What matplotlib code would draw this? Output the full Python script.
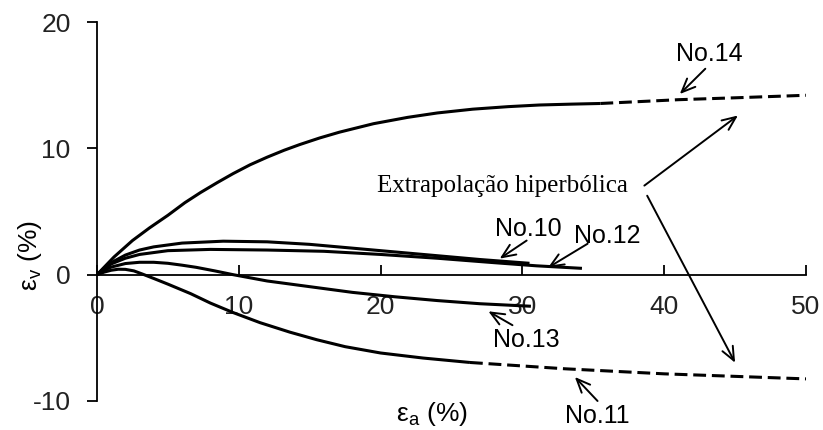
import matplotlib
matplotlib.use("Agg")
from matplotlib import pyplot as plt

plt.rcParams['font.family'] = ['Liberation Sans', 'DejaVu Sans']
plt.rcParams['mathtext.fontset'] = 'custom'
plt.rcParams['mathtext.rm'] = 'Liberation Sans'
plt.rcParams['mathtext.it'] = 'Liberation Sans'
plt.rcParams['axes.unicode_minus'] = False

# curves (eps_a %, eps_v %)
x14 = [0, 0.6, 1.2, 2.5, 3.7, 5.0, 6.2, 7.3, 8.5, 9.6, 10.8, 12.0, 13.2, 14.3, 15.7, 17.1, 19.5, 21.9, 24.0, 26.5, 29.0, 31.2, 33.5, 35.5]
y14 = [0, 0.7, 1.4, 2.7, 3.7, 4.7, 5.7, 6.5, 7.3, 8.0, 8.7, 9.3, 9.85, 10.3, 10.82, 11.28, 11.95, 12.45, 12.8, 13.1, 13.3, 13.43, 13.5, 13.55]
x14_ext = [35.5, 41.0, 45.0, 50.0]
y14_ext = [13.55, 13.85, 14.0, 14.2]

x10 = [0, 0.5, 1, 2, 3, 4, 6, 8.9, 12, 15, 18, 21, 24, 27, 30.5]
y10 = [0, 0.5, 0.95, 1.55, 1.95, 2.2, 2.5, 2.65, 2.6, 2.4, 2.1, 1.8, 1.5, 1.2, 0.9]

x12 = [0, 0.5, 1, 2, 3, 5, 8, 12, 16, 20, 24, 28, 31, 34.2]
y12 = [0, 0.45, 0.85, 1.3, 1.6, 1.9, 2.0, 1.95, 1.85, 1.6, 1.3, 0.95, 0.7, 0.5]

x13 = [0, 0.5, 1, 2, 3, 4, 5, 6, 7, 8.3, 9.6, 12, 15, 18, 21, 24, 27, 30.6]
y13 = [0, 0.35, 0.6, 0.88, 0.98, 0.98, 0.9, 0.75, 0.58, 0.3, 0.0, -0.5, -0.95, -1.4, -1.75, -2.05, -2.3, -2.5]

x11 = [0, 0.5, 1, 1.5, 2, 2.6, 3.2, 4, 5, 6.6, 8, 9.6, 11.5, 13.6, 15.5, 17.5, 20, 23, 26.3]
y11 = [0, 0.2, 0.35, 0.43, 0.42, 0.3, 0.05, -0.3, -0.75, -1.5, -2.25, -3.0, -3.8, -4.55, -5.15, -5.7, -6.2, -6.6, -6.95]
x11_ext = [26.3, 33.0, 40.0, 45.0, 50.0]
y11_ext = [-6.95, -7.45, -7.85, -8.05, -8.25]

xticks = [0, 10, 20, 30, 40, 50]
yticks = [-10, 0, 10, 20]

fig = plt.figure(figsize=(8.23, 4.30), dpi=100)
ax = fig.add_axes([97/823, 29/430, 709/823, 379/430])

lw = 2.2
for xs, ys in [(x14, y14), (x10, y10), (x12, y12), (x13, y13), (x11, y11)]:
    ax.plot(xs, ys, color='black', lw=lw, solid_capstyle='butt', solid_joinstyle='round')
for xs, ys in [(x14_ext, y14_ext), (x11_ext, y11_ext)]:
    ax.plot(xs, ys, color='black', lw=lw, dashes=(4.2, 1.9))

ax.set_xlim(0, 50)
ax.set_ylim(-10, 20)
ax.spines['top'].set_visible(False)
ax.spines['right'].set_visible(False)
ax.spines['bottom'].set_position(('data', 0))
ax.spines['left'].set_linewidth(1.3)
ax.spines['bottom'].set_linewidth(1.3)
ax.set_xticks(xticks)
ax.set_yticks(yticks)
ax.tick_params(axis='x', direction='in', length=7, width=1.3, pad=15, labelsize=19, labelcolor='#222222')
ax.tick_params(axis='y', direction='out', length=7, width=1.3, pad=12, labelsize=19, labelcolor='#222222')

ax.text(23.6, -11.0, r'ε$_\mathrm{a}$ (%)', fontsize=19, ha='center', va='center', clip_on=False)
ax.text(-4.7, 1.5, r'ε$_\mathrm{v}$ (%)', fontsize=19, ha='center', va='center', rotation=90, clip_on=False)

arw = dict(arrowstyle='->,head_length=0.7,head_width=0.3', color='black', lw=1.4,
           shrinkA=0, shrinkB=0, mutation_scale=14)
fs = 18
ax.text(43.2, 17.5, 'No.14', fontsize=fs, ha='center', va='center')
ax.annotate('', xy=(41.1, 14.3), xytext=(42.9, 16.3), arrowprops=arw)
ax.text(30.4, 3.64, 'No.10', fontsize=fs, ha='center', va='center')
ax.annotate('', xy=(28.4, 1.27), xytext=(30.3, 2.7), arrowprops=arw)
ax.text(36.0, 3.1, 'No.12', fontsize=fs, ha='center', va='center')
ax.annotate('', xy=(31.8, 0.55), xytext=(34.6, 2.45), arrowprops=arw)
ax.text(30.3, -5.2, 'No.13', fontsize=fs, ha='center', va='center')
ax.annotate('', xy=(27.6, -2.9), xytext=(29.3, -4.0), arrowprops=arw)
ax.text(35.3, -11.2, 'No.11', fontsize=fs, ha='center', va='center', clip_on=False)
ax.annotate('', xy=(33.7, -8.1), xytext=(35.3, -10.0), arrowprops=arw)

ax.text(28.6, 7.05, 'Extrapolação hiperbólica', fontsize=18, ha='center', va='center',
        family=['Liberation Serif', 'DejaVu Serif'])
ax.annotate('', xy=(45.2, 12.6), xytext=(38.6, 7.05), arrowprops=arw)
ax.annotate('', xy=(45.0, -6.97), xytext=(38.8, 6.25), arrowprops=arw)

fig.savefig('out.png', dpi=100)
